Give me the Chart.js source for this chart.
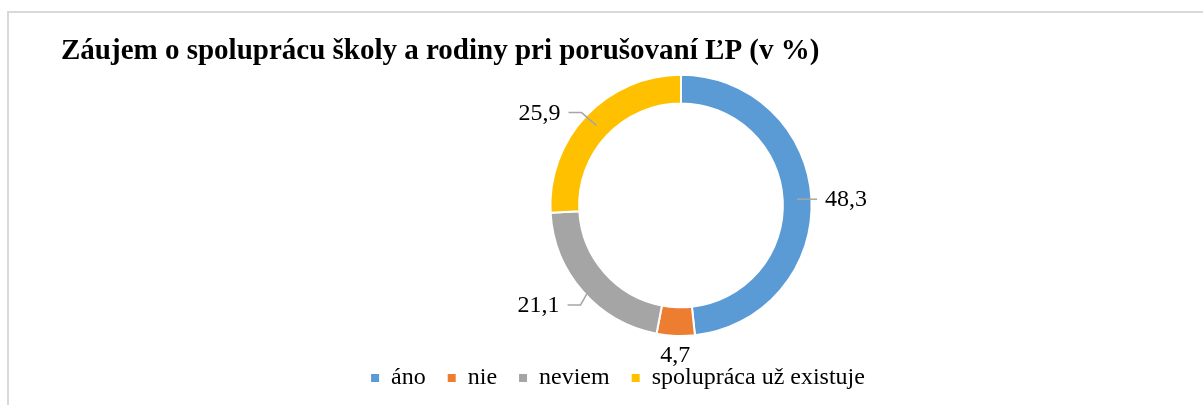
<!DOCTYPE html>
<html>
<head>
<meta charset="utf-8">
<script src="https://cdn.jsdelivr.net/npm/chart.js@4"></script>
<style>
  html, body { margin: 0; padding: 0; background: #fff; overflow: hidden; }
  #frame { position: absolute; left: 7px; top: 11px; width: 2000px; height: 800px;
           border-top: 2px solid #d9d9d9; border-left: 2px solid #d9d9d9; }
  #wrap { position: absolute; left: 0; top: 0; width: 1203px; height: 405px; }
</style>
</head>
<body>
<div id="frame"></div>
<div id="wrap"><canvas id="chart"></canvas></div>
<script>
const categories = ['áno', 'nie', 'neviem', 'spolupráca už existuje'];
const shares = [48.3, 4.7, 21.1, 25.9];
const sliceColors = ['#5B9BD5', '#ED7D31', '#A5A5A5', '#FFC000'];
const titleText = 'Záujem o spoluprácu školy a rodiny pri porušovaní ĽP (v %)';

const SERIF = '"Liberation Serif", "Times New Roman", serif';

// label offset from the middle of its ring segment (Excel moved these by hand)
const labelPlacement = [
  { dx: 28, dy: 1, align: 'left', leader: true },
  { dx: -1, dy: 34, align: 'center', leader: false },
  { dx: -34, dy: 24, align: 'right', leader: true },
  { dx: -36, dy: -12, align: 'right', leader: true },
];

// plot area sits right of the legend centre in the original
const plotShiftX = 63;
const plotTrimBottom = 7;

const shiftPlot = {
  id: 'shiftPlot',
  afterLayout(chart) {
    const a = chart.chartArea;
    a.left += plotShiftX;
    a.right += plotShiftX;
    a.bottom -= plotTrimBottom;
    a.width = a.right - a.left;
    a.height = a.bottom - a.top;
  }
};

const ringLabels = {
  id: 'ringLabels',
  afterDatasetsDraw(chart) {
    const ctx = chart.ctx;
    const arcs = chart.getDatasetMeta(0).data;
    ctx.save();
    ctx.font = '24px ' + SERIF;
    ctx.textBaseline = 'middle';
    arcs.forEach((arc, i) => {
      const p = arc.getProps(['x', 'y', 'startAngle', 'endAngle', 'innerRadius', 'outerRadius']);
      const mid = (p.startAngle + p.endAngle) / 2;
      const r = (p.innerRadius + p.outerRadius) / 2;
      const ax = p.x + Math.cos(mid) * r;
      const ay = p.y + Math.sin(mid) * r;
      const place = labelPlacement[i];
      const tx = ax + place.dx;
      const ty = ay + place.dy;
      if (place.leader) {
        const dir = place.align === 'left' ? -1 : 1;
        ctx.strokeStyle = '#A6A6A6';
        ctx.lineWidth = 1.5;
        ctx.beginPath();
        ctx.moveTo(ax, ay);
        ctx.lineTo(tx + dir * 21, ty - 1);
        ctx.lineTo(tx + dir * 8, ty - 1);
        ctx.stroke();
      }
      ctx.fillStyle = '#000';
      ctx.textAlign = place.align;
      ctx.fillText(shares[i].toFixed(1).replace('.', ','), tx, ty);
    });
    ctx.restore();
  }
};

new Chart(document.getElementById('chart'), {
  type: 'doughnut',
  data: {
    labels: categories,
    datasets: [{
      data: shares,
      backgroundColor: sliceColors,
      borderColor: '#fff',
      borderWidth: 2,
    }],
  },
  options: {
    responsive: true,
    maintainAspectRatio: false,
    animation: false,
    events: [],
    cutout: '78%',
    layout: { padding: { left: 61, right: 28, top: 0, bottom: 5 } },
    plugins: {
      title: {
        display: true,
        text: titleText,
        align: 'start',
        color: '#000',
        font: { family: SERIF, size: 29, weight: 'bold' },
        padding: { top: 34, bottom: 5 },
      },
      legend: {
        position: 'bottom',
        labels: {
          color: '#000',
          font: { family: SERIF, size: 24 },
          boxWidth: 8,
          boxHeight: 8,
          padding: 22,
          // no white outline round the little squares
          generateLabels: (chart) =>
            Chart.overrides.doughnut.plugins.legend.labels.generateLabels(chart)
              .map(item => ({ ...item, lineWidth: 0, strokeStyle: item.fillStyle })),
        },
      },
      tooltip: { enabled: false },
    },
  },
  plugins: [shiftPlot, ringLabels],
});
</script>
</body>
</html>
